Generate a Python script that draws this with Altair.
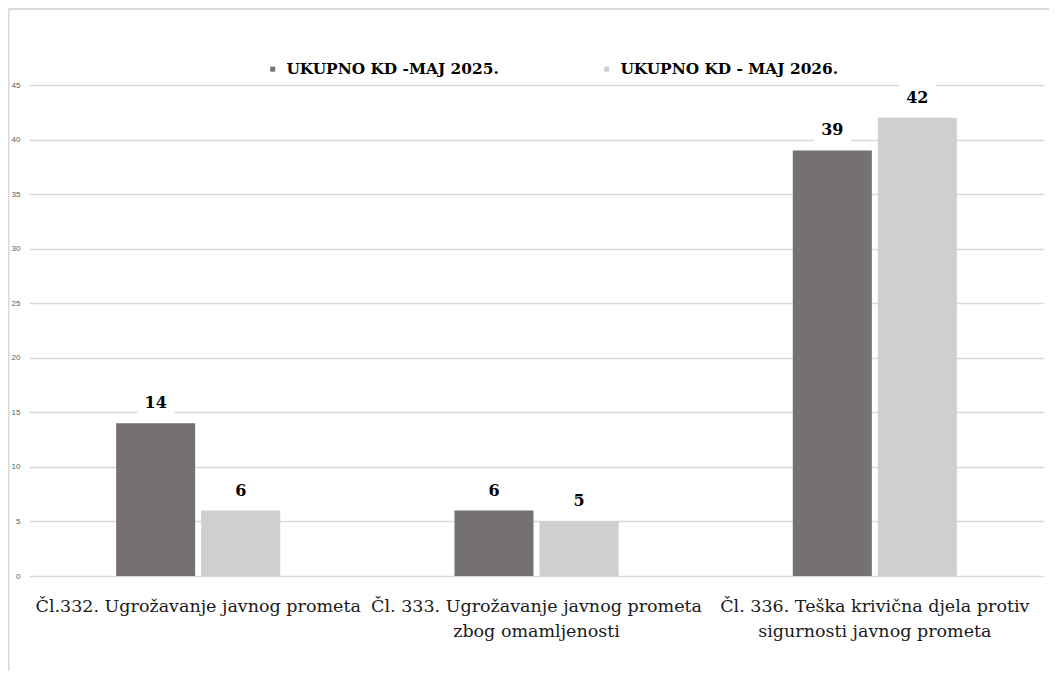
import altair as alt
import pandas as pd

categories = [
    "Čl.332. Ugrožavanje javnog prometa",
    "Čl. 333. Ugrožavanje javnog prometa|zbog omamljenosti",
    "Čl. 336. Teška krivična djela protiv|sigurnosti javnog prometa",
]
series = ["UKUPNO KD -MAJ 2025.", "UKUPNO KD - MAJ 2026."]
values_2025 = [14, 6, 39]
values_2026 = [6, 5, 42]
colors = ["#767171", "#D0CECE"]
y_ticks = list(range(0, 50, 5))

rows = []
for c, a, b in zip(categories, values_2025, values_2026):
    rows.append({"category": c, "series": series[0], "value": a})
    rows.append({"category": c, "series": series[1], "value": b})
df = pd.DataFrame(rows)

SERIF = "DejaVu Serif"

x_enc = alt.X(
    "category:N",
    sort=categories,
    scale=alt.Scale(paddingInner=0.515, paddingOuter=0.2575),
    axis=alt.Axis(
        title=None,
        labelExpr="split(datum.label, '|')",
        labelAngle=0,
        domain=False,
        ticks=False,
        labelFont=SERIF,
        labelFontSize=17.5,
        labelColor="#1a1a1a",
        labelPadding=21,
        labelLimit=0,
        labelLineHeight=25,
        labelBaseline="top",
    ),
)
xoff = alt.XOffset(
    "series:N",
    sort=series,
    scale=alt.Scale(paddingInner=0.0706, paddingOuter=0),
)
y_enc = alt.Y(
    "value:Q",
    scale=alt.Scale(domain=[0, 45], nice=False),
    axis=alt.Axis(
        values=y_ticks,
        title=None,
        domain=False,
        ticks=False,
        labelFont="Liberation Sans",
        labelFontSize=8,
        labelColor="#595959",
        labelPadding=9,
        gridColor="#d9d9d9",
        gridWidth=1.3,
    ),
)
color_enc = alt.Color(
    "series:N",
    sort=series,
    scale=alt.Scale(domain=series, range=colors),
    legend=alt.Legend(
        orient="none",
        legendX=236,
        legendY=-24,
        direction="horizontal",
        title=None,
        symbolType="square",
        symbolSize=25,
        symbolStrokeWidth=0,
        labelFont=SERIF,
        labelFontWeight="bold",
        labelFontSize=15.4,
        labelColor="#000000",
        labelOffset=6,
        columnPadding=100,
        labelLimit=0,
    ),
)

base = alt.Chart(df)

bars = base.mark_bar().encode(x=x_enc, xOffset=xoff, y=y_enc, color=color_enc)

boxes = base.mark_point(
    shape="M-1,-0.75H1V0.75H-1Z",
    size=1369,
    filled=True,
    fill="white",
    opacity=1,
    strokeOpacity=0,
    yOffset=-20,
).encode(x=x_enc, xOffset=xoff, y=y_enc)

labels = base.mark_text(
    dy=-20,
    font=SERIF,
    fontWeight="bold",
    fontSize=16,
    color="#000000",
    baseline="middle",
).encode(x=x_enc, xOffset=xoff, y=y_enc, text="value:Q")

frame_data = alt.Data(values=[{"k": 1}])
shadow1 = alt.Chart(frame_data).mark_rule(color="#eeeeee", strokeWidth=2).encode(
    x=alt.value(-20), x2=alt.value(1030), y=alt.value(-77.5)
)
top_line = alt.Chart(frame_data).mark_rule(color="#d0d0d0", strokeWidth=1.5).encode(
    x=alt.value(-20.5), x2=alt.value(1030), y=alt.value(-76)
)
left_line = alt.Chart(frame_data).mark_rule(color="#d9d9d9", strokeWidth=1.5).encode(
    x=alt.value(-20.2), y=alt.value(-76), y2=alt.value(600)
)

chart = (
    alt.layer(shadow1, top_line, left_line, bars, boxes, labels)
    .properties(
        width=1015,
        height=491,
        autosize=alt.AutoSizeParams(type="none"),
        padding={"left": 21, "top": 77, "right": 5, "bottom": 95},
        background="white",
    )
    .configure_view(stroke=None)
)

chart.save("out.html", embed_options={"renderer": "svg", "actions": False})
